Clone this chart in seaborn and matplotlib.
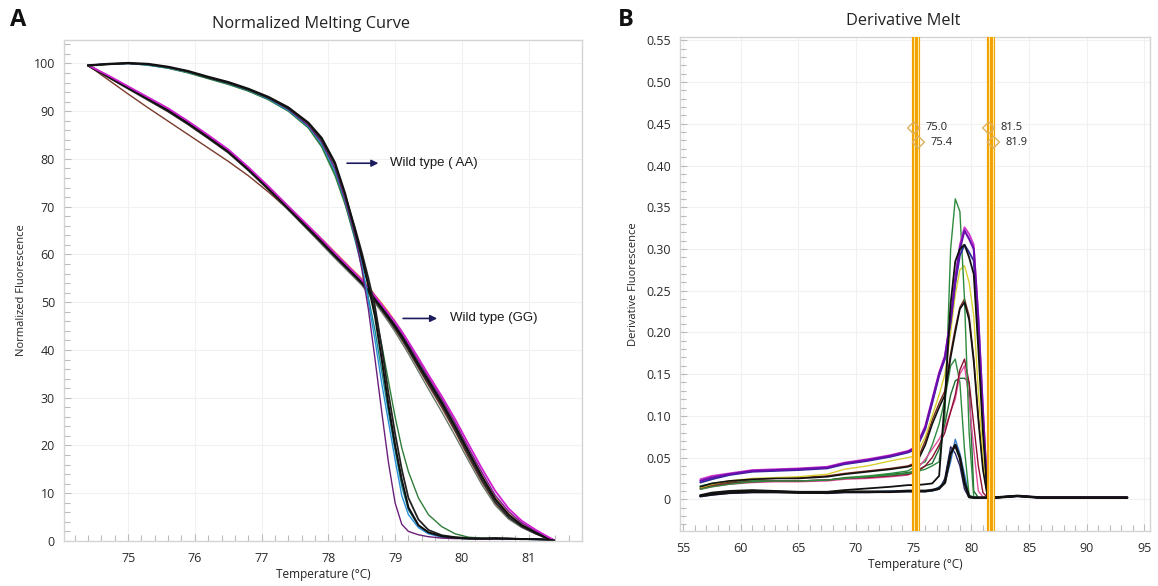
import matplotlib
matplotlib.use("Agg")
import matplotlib.pyplot as plt
import seaborn as sns
from matplotlib.ticker import MultipleLocator, FuncFormatter

# ---------------- data: panel A (normalized melting curves) ----------------
temp_A = [74.4, 74.7, 75.0, 75.3, 75.6, 75.9, 76.2, 76.5, 76.8, 77.1, 77.4, 77.7, 77.9, 78.1,
          78.25, 78.4, 78.5, 78.6, 78.7, 78.8, 78.9, 79.0, 79.1, 79.2, 79.35, 79.5, 79.7, 79.9,
          80.1, 80.3, 80.5, 80.7, 80.9, 81.1, 81.25, 81.38]

aa_black = [99.6, 99.9, 100.1, 99.9, 99.3, 98.4, 97.2, 96.1, 94.7, 93.0, 90.8, 87.6, 84.4, 79.2,
            72.8, 65.0, 59.5, 53.5, 47.0, 38.0, 28.5, 20.0, 12.8, 7.0, 3.3, 1.8, 1.0, 0.7,
            0.5, 0.5, 0.6, 0.5, 0.4, 0.4, 0.3, 0.1]
aa_black2 = [99.5, 99.8, 100.0, 99.8, 99.2, 98.3, 97.0, 95.9, 94.5, 92.8, 90.6, 87.4, 84.0, 78.8,
             72.5, 65.5, 60.5, 55.0, 49.0, 40.5, 31.0, 22.5, 15.0, 9.0, 4.5, 2.3, 1.2, 0.8,
             0.6, 0.5, 0.5, 0.5, 0.4, 0.4, 0.3, 0.1]
aa_purple = [99.6, 99.9, 100.0, 99.8, 99.2, 98.3, 97.1, 96.0, 94.6, 92.8, 90.4, 87.0, 83.5, 78.0,
             71.5, 64.0, 57.0, 48.5, 38.0, 27.0, 16.5, 8.0, 3.5, 2.0, 1.3, 0.9, 0.6, 0.5,
             0.5, 0.4, 0.4, 0.4, 0.4, 0.3, 0.3, 0.1]
aa_blue = [99.6, 99.9, 100.0, 99.7, 99.1, 98.2, 97.0, 95.8, 94.4, 92.6, 90.2, 86.8, 83.2, 77.6,
           71.2, 64.0, 58.0, 50.0, 42.0, 33.0, 25.0, 17.0, 9.5, 5.5, 2.8, 1.5, 0.8, 0.6,
           0.5, 0.5, 0.4, 0.4, 0.4, 0.3, 0.3, 0.1]
aa_green = [99.5, 99.8, 100.0, 99.7, 99.0, 98.0, 96.8, 95.6, 94.2, 92.4, 90.0, 86.5, 82.5, 76.5,
            70.5, 63.5, 58.5, 53.5, 48.0, 41.0, 33.5, 26.0, 19.5, 14.5, 9.0, 5.5, 3.0, 1.5,
            0.8, 0.6, 0.5, 0.5, 0.4, 0.4, 0.3, 0.1]
aa_teal = [99.6, 99.9, 100.0, 99.6, 99.0, 98.1, 96.9, 95.7, 94.3, 92.5, 90.1, 86.6, 82.8, 77.0,
           70.8, 63.0, 57.5, 51.0, 44.0, 35.5, 27.0, 19.0, 11.5, 6.5, 3.2, 1.7, 0.9, 0.6,
           0.5, 0.5, 0.4, 0.4, 0.4, 0.3, 0.3, 0.1]

gg_black = [99.6, 97.3, 94.9, 92.6, 90.2, 87.5, 84.6, 81.6, 77.9, 73.9, 69.7, 65.5, 62.7, 59.8,
            57.7, 55.6, 54.2, 52.4, 50.6, 48.8, 46.9, 45.0, 42.9, 40.6, 37.0, 33.6, 29.0, 24.0,
            18.7, 13.5, 8.8, 5.5, 3.3, 1.8, 0.8, 0.1]
gg_black2 = [99.5, 97.1, 94.7, 92.3, 89.9, 87.2, 84.3, 81.3, 77.6, 73.6, 69.4, 65.2, 62.4, 59.5,
             57.4, 55.3, 53.9, 52.1, 50.2, 48.4, 46.5, 44.5, 42.4, 40.1, 36.5, 33.0, 28.4, 23.3,
             18.0, 12.8, 8.2, 5.0, 3.0, 1.6, 0.7, 0.1]
gg_magenta = [99.6, 97.5, 95.2, 92.9, 90.6, 87.9, 85.0, 82.0, 78.3, 74.3, 70.1, 66.0, 63.2, 60.3,
              58.2, 56.1, 54.7, 53.0, 51.3, 49.5, 47.7, 45.9, 43.9, 41.7, 38.3, 34.8, 30.3, 25.5,
              20.3, 15.2, 10.5, 6.8, 4.2, 2.4, 1.2, 0.2]
gg_purple = [99.6, 97.4, 95.1, 92.8, 90.5, 87.8, 84.9, 81.9, 78.2, 74.1, 69.9, 65.7, 62.9, 60.0,
             57.9, 55.8, 54.4, 52.7, 51.0, 49.2, 47.3, 45.4, 43.4, 41.2, 37.7, 34.2, 29.7, 24.8,
             19.5, 14.4, 9.6, 6.2, 3.8, 2.1, 1.0, 0.2]
gg_brown = [99.6, 96.6, 93.6, 90.7, 87.9, 85.1, 82.3, 79.5, 76.5, 73.1, 69.4, 65.5, 62.7, 59.8,
            57.7, 55.5, 54.0, 52.1, 50.2, 48.3, 46.3, 44.3, 42.1, 39.8, 36.2, 32.6, 27.9, 22.9,
            17.5, 12.4, 7.9, 4.8, 2.9, 1.6, 0.7, 0.1]
gg_orange = [99.6, 97.3, 95.0, 92.7, 90.3, 87.6, 84.7, 81.7, 78.1, 74.2, 70.1, 66.0, 63.3, 60.5,
             58.4, 56.3, 55.0, 53.3, 51.5, 49.8, 48.0, 46.0, 43.9, 41.6, 38.0, 34.5, 29.8, 24.8,
             19.4, 14.2, 9.4, 6.0, 3.7, 2.0, 0.9, 0.1]
gg_grey = [99.6, 97.2, 94.8, 92.4, 90.0, 87.3, 84.4, 81.4, 77.7, 73.6, 69.3, 65.0, 62.1, 59.2,
           57.1, 55.0, 53.6, 51.7, 49.8, 47.9, 45.9, 43.8, 41.5, 39.2, 35.5, 31.8, 27.0, 22.0,
           16.8, 11.8, 7.5, 4.6, 2.8, 1.5, 0.7, 0.1]

# ---------------- data: panel B (derivative melt) ----------------
temp_B = [56.5, 57.5, 59, 61, 63, 65, 67.5, 69, 71, 73, 74.5, 75.2, 76, 76.6, 77.2, 77.7, 78.2,
          78.6, 79.0, 79.4, 79.8, 80.2, 80.6, 81.0, 81.4, 82, 83, 84, 86, 88, 90, 92, 93.5]

d_purple = [0.022, 0.026, 0.030, 0.034, 0.035, 0.036, 0.038, 0.043, 0.047, 0.052, 0.057, 0.062, 0.086,
            0.118, 0.150, 0.170, 0.215, 0.262, 0.300, 0.322, 0.312, 0.300, 0.215, 0.105, 0.004,
            0.002, 0.003, 0.004, 0.002, 0.002, 0.002, 0.002, 0.002]
d_magenta = [0.024, 0.028, 0.031, 0.035, 0.036, 0.037, 0.039, 0.044, 0.048, 0.053, 0.058, 0.063, 0.088,
             0.120, 0.152, 0.172, 0.218, 0.266, 0.305, 0.326, 0.318, 0.305, 0.220, 0.108, 0.005,
             0.002, 0.003, 0.004, 0.002, 0.002, 0.002, 0.002, 0.002]
d_navy = [0.020, 0.024, 0.029, 0.033, 0.034, 0.035, 0.037, 0.042, 0.046, 0.051, 0.056, 0.060, 0.084,
          0.115, 0.148, 0.168, 0.212, 0.258, 0.292, 0.305, 0.296, 0.286, 0.200, 0.095, 0.004,
          0.002, 0.003, 0.004, 0.002, 0.002, 0.002, 0.002, 0.002]
d_black1 = [0.005, 0.008, 0.010, 0.011, 0.010, 0.009, 0.009, 0.011, 0.013, 0.015, 0.017, 0.017, 0.018,
            0.019, 0.028, 0.120, 0.235, 0.285, 0.300, 0.305, 0.290, 0.270, 0.180, 0.080, 0.003,
            0.002, 0.003, 0.004, 0.002, 0.002, 0.002, 0.002, 0.002]
d_green_spike = [0.012, 0.015, 0.018, 0.021, 0.022, 0.022, 0.023, 0.025, 0.027, 0.029, 0.031, 0.033,
                 0.036, 0.040, 0.045, 0.100, 0.300, 0.360, 0.345, 0.240, 0.080, 0.003, 0.002, 0.002,
                 0.002, 0.002, 0.003, 0.004, 0.002, 0.002, 0.002, 0.002, 0.002]
d_yellow = [0.014, 0.018, 0.022, 0.025, 0.026, 0.027, 0.030, 0.036, 0.040, 0.046, 0.050, 0.052, 0.075,
            0.100, 0.125, 0.150, 0.200, 0.245, 0.275, 0.280, 0.260, 0.220, 0.130, 0.050, 0.003,
            0.002, 0.003, 0.004, 0.002, 0.002, 0.002, 0.002, 0.002]
d_brown = [0.013, 0.017, 0.021, 0.024, 0.025, 0.026, 0.028, 0.031, 0.034, 0.037, 0.040, 0.044, 0.070,
           0.095, 0.115, 0.130, 0.175, 0.205, 0.230, 0.240, 0.220, 0.170, 0.100, 0.040, 0.003,
           0.002, 0.003, 0.004, 0.002, 0.002, 0.002, 0.002, 0.002]
d_black2 = [0.015, 0.019, 0.022, 0.024, 0.025, 0.025, 0.027, 0.030, 0.033, 0.036, 0.039, 0.042, 0.065,
            0.090, 0.110, 0.125, 0.170, 0.200, 0.228, 0.236, 0.215, 0.165, 0.095, 0.035, 0.003,
            0.002, 0.003, 0.004, 0.002, 0.002, 0.002, 0.002, 0.002]
d_maroon = [0.013, 0.016, 0.019, 0.021, 0.022, 0.022, 0.023, 0.025, 0.026, 0.028, 0.030, 0.032, 0.040,
            0.050, 0.065, 0.080, 0.105, 0.125, 0.155, 0.168, 0.140, 0.090, 0.040, 0.008, 0.002,
            0.002, 0.003, 0.004, 0.002, 0.002, 0.002, 0.002, 0.002]
d_pink = [0.012, 0.015, 0.018, 0.020, 0.021, 0.021, 0.022, 0.024, 0.025, 0.027, 0.029, 0.035, 0.048,
          0.060, 0.072, 0.085, 0.105, 0.120, 0.150, 0.160, 0.120, 0.060, 0.010, 0.003, 0.002,
          0.002, 0.003, 0.004, 0.002, 0.002, 0.002, 0.002, 0.002]
d_green2 = [0.016, 0.019, 0.021, 0.022, 0.022, 0.022, 0.023, 0.026, 0.028, 0.031, 0.034, 0.040, 0.045,
            0.065, 0.090, 0.120, 0.160, 0.168, 0.140, 0.060, 0.005, 0.002, 0.002, 0.002, 0.002,
            0.002, 0.003, 0.004, 0.002, 0.002, 0.002, 0.002, 0.002]
d_dkgreen = [0.015, 0.018, 0.020, 0.022, 0.022, 0.022, 0.023, 0.025, 0.027, 0.030, 0.032, 0.034, 0.040,
             0.043, 0.060, 0.090, 0.125, 0.142, 0.145, 0.145, 0.140, 0.010, 0.002, 0.002, 0.002,
             0.002, 0.003, 0.004, 0.002, 0.002, 0.002, 0.002, 0.002]
d_blue = [0.004, 0.006, 0.008, 0.009, 0.009, 0.009, 0.008, 0.009, 0.009, 0.010, 0.010, 0.010, 0.010,
          0.010, 0.015, 0.020, 0.045, 0.072, 0.055, 0.030, 0.005, 0.002, 0.002, 0.002, 0.002,
          0.002, 0.003, 0.004, 0.002, 0.002, 0.002, 0.002, 0.002]
d_navy2 = [0.003, 0.005, 0.007, 0.008, 0.008, 0.008, 0.007, 0.008, 0.008, 0.009, 0.009, 0.009, 0.009,
           0.010, 0.012, 0.025, 0.063, 0.055, 0.040, 0.012, 0.002, 0.002, 0.002, 0.002, 0.002,
           0.002, 0.003, 0.004, 0.002, 0.002, 0.002, 0.002, 0.002]
d_black3 = [0.004, 0.006, 0.008, 0.009, 0.009, 0.008, 0.008, 0.009, 0.009, 0.009, 0.010, 0.010, 0.010,
            0.011, 0.013, 0.020, 0.055, 0.065, 0.050, 0.020, 0.003, 0.002, 0.002, 0.002, 0.002,
            0.002, 0.003, 0.004, 0.002, 0.002, 0.002, 0.002, 0.002]

melt_bounds = [75.0, 75.4, 81.5, 81.9]
bound_marker_y = [0.445, 0.428, 0.445, 0.428]

# ---------------- style ----------------
sns.set_theme(style="white")
plt.rcParams['font.family'] = ['Open Sans', 'DejaVu Sans']

W, H = 1158, 586
fig = plt.figure(figsize=(W / 100, H / 100), dpi=100)
axA = fig.add_axes([64 / W, 1 - 541 / H, (582 - 64) / W, (541 - 40) / H])
axB = fig.add_axes([680 / W, 1 - 531 / H, (1150 - 680) / W, (531 - 37) / H])

curves_A = [
    (gg_orange, '#f0a030', 1.0), (gg_brown, '#7a3a2a', 1.0), (gg_grey, '#6a7a6a', 1.0),
    (gg_purple, '#7a1fa0', 1.0), (gg_black2, '#2a2a2a', 1.2), (gg_black, '#111111', 1.6),
    (gg_magenta, '#d020d0', 1.3),
    (aa_teal, '#178c8c', 1.0), (aa_green, '#2f7d3a', 1.0), (aa_blue, '#2b8fd8', 1.0),
    (aa_purple, '#6b1f7a', 1.0), (aa_black2, '#222222', 1.3), (aa_black, '#111111', 1.5),
]
for vals, col, lw in curves_A:
    sns.lineplot(x=temp_A, y=vals, ax=axA, color=col, lw=lw, sort=False, estimator=None)

curves_B = [
    (d_navy2, '#2a2a6a', 1.0), (d_blue, '#3a7dc9', 1.0),
    (d_dkgreen, '#1e6b2e', 1.0), (d_green2, '#2e8b3e', 1.0), (d_pink, '#e050a0', 1.0),
    (d_maroon, '#8b1030', 1.0), (d_brown, '#7b2a1a', 1.0),
    (d_yellow, '#d8d030', 1.0), (d_green_spike, '#2e8b3e', 1.0),
    (d_navy, '#2a2a9a', 1.3), (d_magenta, '#cc33cc', 1.3), (d_purple, '#6a0dad', 1.5),
    (d_black2, '#111111', 1.2), (d_black1, '#111111', 1.3), (d_black3, '#111111', 1.9),
]
for vals, col, lw in curves_B:
    sns.lineplot(x=temp_B, y=vals, ax=axB, color=col, lw=lw, sort=False, estimator=None)

# melt region bars
for b in melt_bounds:
    axB.axvline(b, color='#f2a200', lw=3.0, zorder=5)
    axB.axvline(b, color='#ffe9a8', lw=0.8, zorder=6)
sns.scatterplot(x=melt_bounds, y=bound_marker_y, ax=axB, marker='D', s=38,
                facecolor='none', edgecolor='#dcb060', linewidth=1.0, zorder=7)
for b, yv in zip(melt_bounds, bound_marker_y):
    axB.text(b + 1.05, yv, f"{b:.1f}", fontsize=8, va='center', ha='left', color='#222222',
             zorder=8)

# annotations on panel A
arrow_kw = dict(arrowstyle='-|>', color='#1c1c5c', lw=1.2, mutation_scale=10, shrinkA=0, shrinkB=0)
axA.annotate('', xy=(78.75, 79.1), xytext=(78.28, 79.1), arrowprops=arrow_kw)
axA.text(78.93, 79.1, 'Wild type ( AA)', fontsize=9.5, va='center', ha='left',
         family=['Liberation Sans', 'DejaVu Sans'], color='#1a1a1a')
axA.annotate('', xy=(79.63, 46.6), xytext=(79.12, 46.6), arrowprops=arrow_kw)
axA.text(79.82, 46.6, 'Wild type (GG)', fontsize=9.5, va='center', ha='left',
         family=['Liberation Sans', 'DejaVu Sans'], color='#1a1a1a')

# axes formatting
axA.set_xlim(74.04, 81.8)
axA.set_ylim(0, 104.9)
axA.xaxis.set_major_locator(MultipleLocator(1))
axA.xaxis.set_minor_locator(MultipleLocator(0.2))
axA.yaxis.set_major_locator(MultipleLocator(10))
axA.yaxis.set_minor_locator(MultipleLocator(2))

axB.set_xlim(54.74, 95.48)
axB.set_ylim(-0.038, 0.554)
axB.xaxis.set_major_locator(MultipleLocator(5))
axB.xaxis.set_minor_locator(MultipleLocator(1))
axB.yaxis.set_major_locator(MultipleLocator(0.05))
axB.yaxis.set_minor_locator(MultipleLocator(0.01))
axB.yaxis.set_major_formatter(FuncFormatter(lambda v, p: '0' if abs(v) < 1e-9 else f"{v:.2f}"))

for ax in (axA, axB):
    ax.grid(True, which='major', color='#f1f1f1', lw=0.8)
    ax.set_axisbelow(True)
    for sp in ax.spines.values():
        sp.set_color('#d4d4d4')
        sp.set_linewidth(1.0)
    ax.tick_params(which='both', direction='in', color='#bbbbbb', width=0.8, labelcolor='#2a2a2a',
                   labelsize=9)
    ax.tick_params(which='major', length=5)
    ax.tick_params(which='minor', length=4)
    ax.tick_params(axis='x', which='both', pad=8, bottom=True)
    ax.tick_params(axis='y', which='both', pad=6.5, left=True)

axA.set_xlabel('Temperature (°C)', fontsize=8.5, labelpad=2, color='#222222')
axA.set_ylabel('Normalized Fluorescence', fontsize=8, labelpad=4.5, color='#222222')
axB.set_xlabel('Temperature (°C)', fontsize=8.5, labelpad=2, color='#222222')
axB.set_ylabel('Derivative Fluorescence', fontsize=8, labelpad=5, color='#222222')

fig.text(311 / W, 1 - 24 / H, 'Normalized Melting Curve', ha='center', va='center',
         fontsize=11.8, color='#222222')
fig.text(903 / W, 1 - 21 / H, 'Derivative Melt', ha='center', va='center',
         fontsize=11.8, color='#222222')
fig.text(18 / W, 1 - 20 / H, 'A', ha='center', va='center', fontsize=17, fontweight='bold',
         color='#111111')
fig.text(626 / W, 1 - 20 / H, 'B', ha='center', va='center', fontsize=17, fontweight='bold',
         color='#111111')

fig.savefig('out.png', dpi=100)
